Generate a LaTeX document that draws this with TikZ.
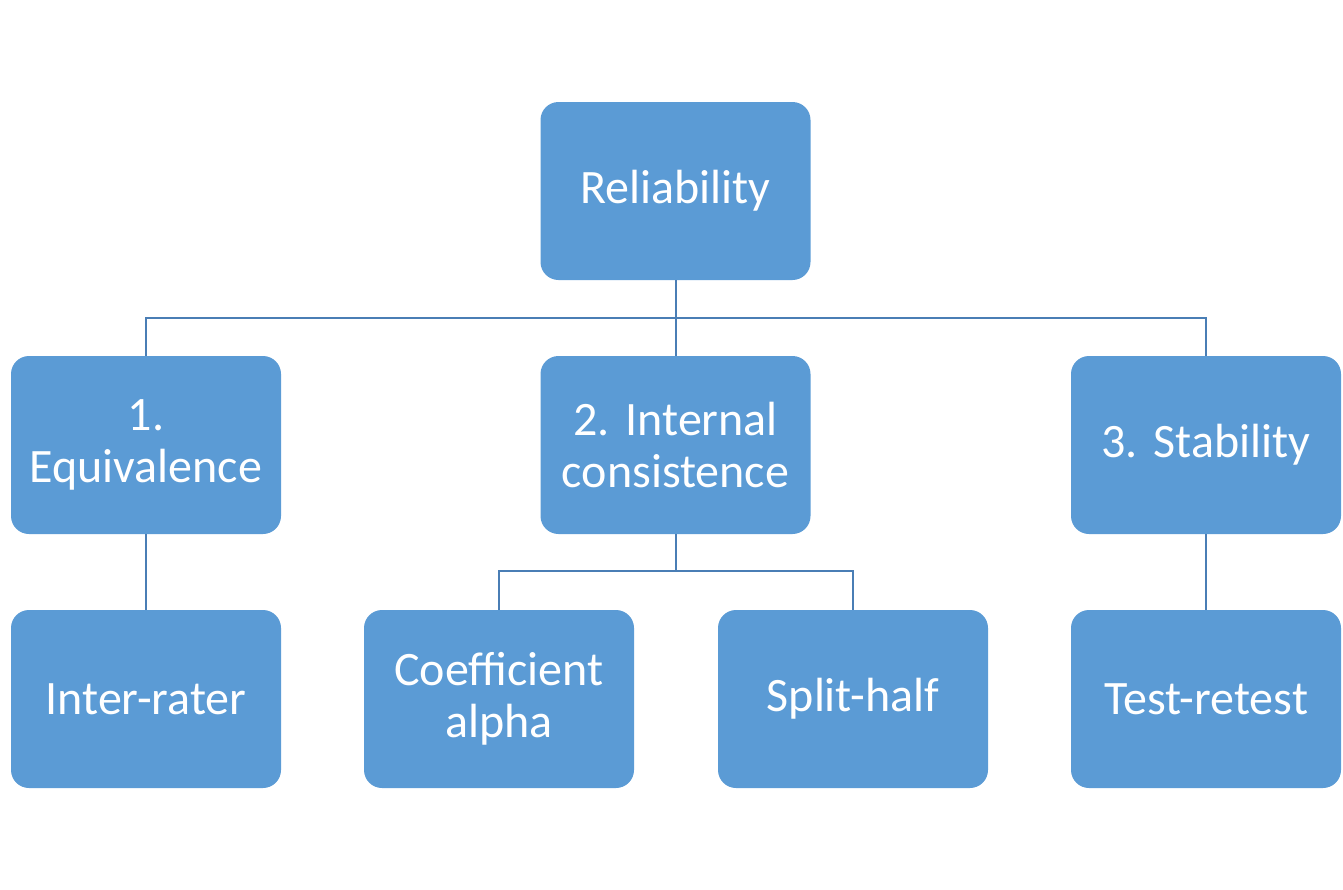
\documentclass[tikz,border=0pt]{standalone}
\usepackage{fontspec}
\setmainfont{Carlito}
\definecolor{boxfill}{HTML}{5B9BD5}
\definecolor{linecol}{HTML}{4A7EB5}
\begin{document}
\begin{tikzpicture}[x=1pt,y=-1pt,
  box/.style={fill=boxfill, rounded corners=18pt, minimum width=270pt, minimum height=178pt,
    inner sep=0pt, text=white, align=center, text width=262pt,
    font=\fontsize{48}{52}\selectfont},
  conn/.style={draw=linecol, line width=2pt}]
\useasboundingbox (0,0) rectangle (1343,889);
\node[box] (rel) at (675.5,191) {Reliability};
\node[box] (equ) at (146,445) {1.\\Equivalence};
\node[box] (int) at (675.5,445) {2.\ Internal\\consistence};
\node[box] (sta) at (1206,445) {3.\ Stability};
\node[box] (irt) at (146,699) {Inter-rater};
\node[box] (coa) at (499,699) {Coefficient\\alpha};
\node[box] (spl) at (853,699) {Split-half};
\node[box] (ttr) at (1206,699) {Test-retest};
\coordinate (j1) at (675.5,318);
\coordinate (j2) at (675.5,571);
\draw[conn] (rel.south) -- (int.north);
\draw[conn] (equ.north) -- (equ.north |- j1) -- (sta.north |- j1) -- (sta.north);
\draw[conn] (equ.south) -- (irt.north);
\draw[conn] (sta.south) -- (ttr.north);
\draw[conn] (int.south) -- (j2);
\draw[conn] (coa.north) -- (coa.north |- j2) -- (spl.north |- j2) -- (spl.north);
\end{tikzpicture}
\end{document}
